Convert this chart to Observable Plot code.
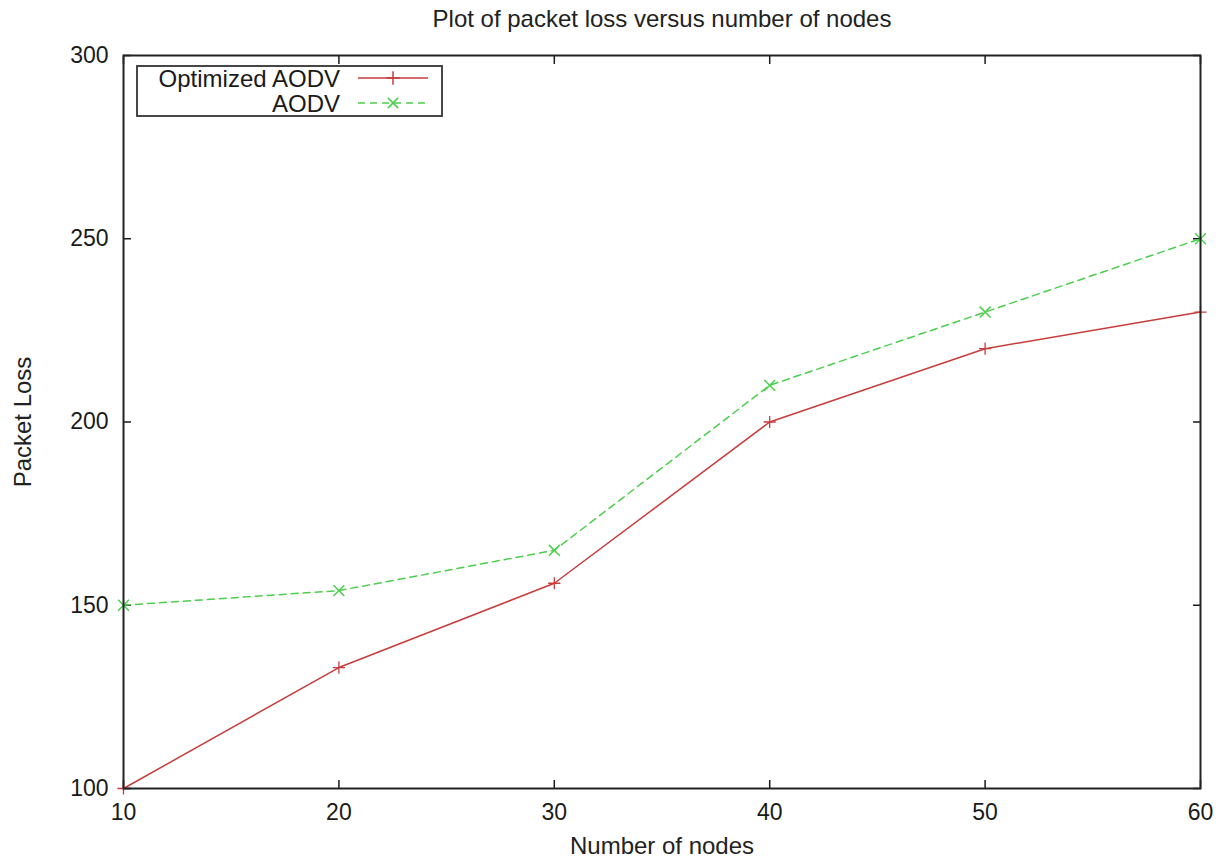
<!DOCTYPE html>
<html>
<head>
<meta charset="utf-8">
<script src="https://cdn.jsdelivr.net/npm/d3@7"></script>
<script src="https://cdn.jsdelivr.net/npm/@observablehq/plot@0.6"></script>
<style>
  html, body { margin: 0; padding: 0; background: #fff; }
  #wrap { position: relative; width: 1225px; height: 863px; font-family: "Liberation Sans", Arial, sans-serif; }
  #legend { position: absolute; left: 0; top: 0; }
</style>
</head>
<body>
<div id="wrap"></div>
<script>
const title = "Plot of packet loss versus number of nodes";
const xLabel = "Number of nodes";
const yLabel = "Packet Loss";
const nodes = [10, 20, 30, 40, 50, 60];
const optimizedAODV = [100, 133, 156, 200, 220, 230];
const aodv = [150, 154, 165, 210, 230, 250];
const seriesNames = ["Optimized AODV", "AODV"];
const xTicks = [10, 20, 30, 40, 50, 60];
const yTicks = [100, 150, 200, 250, 300];

const colors = {"Optimized AODV": "#c83c3c", "AODV": "#4ccf4c"};

const rows = [];
nodes.forEach((n, i) => {
  rows.push({series: seriesNames[0], x: n, y: optimizedAODV[i]});
  rows.push({series: seriesNames[1], x: n, y: aodv[i]});
});
const optRows = rows.filter(d => d.series === seriesNames[0]);
const aodvRows = rows.filter(d => d.series === seriesNames[1]);

const font = "Liberation Sans, Arial, sans-serif";

const chart = Plot.plot({
  width: 1225,
  height: 863,
  marginLeft: 123,
  marginRight: 25,
  marginTop: 55,
  marginBottom: 75,
  style: {fontFamily: font, fontSize: "23px", color: "#1a1a1a", background: "#fff"},
  x: {domain: [10, 60], ticks: xTicks},
  y: {domain: [100, 300], ticks: yTicks},
  marks: [
    Plot.axisX({anchor: "bottom", ticks: xTicks, tickSize: 0, tickPadding: 15, label: null, fontSize: 23}),
    Plot.axisX({anchor: "bottom", ticks: xTicks, tickSize: -8, tickFormat: () => "", label: null, strokeWidth: 1.5}),
    Plot.axisX({anchor: "top", ticks: xTicks, tickSize: -8, tickFormat: () => "", label: null, strokeWidth: 1.5}),
    Plot.axisY({anchor: "left", ticks: yTicks, tickSize: 0, tickPadding: 15, label: null, fontSize: 23}),
    Plot.axisY({anchor: "left", ticks: yTicks, tickSize: -8, tickFormat: () => "", label: null, strokeWidth: 1.5}),
    Plot.axisY({anchor: "right", ticks: yTicks, tickSize: -8, tickFormat: () => "", label: null, strokeWidth: 1.5}),
    Plot.line(optRows, {x: "x", y: "y", stroke: colors[seriesNames[0]], strokeWidth: 1.5}),
    Plot.line(aodvRows, {x: "x", y: "y", stroke: colors[seriesNames[1]], strokeWidth: 1.5, strokeDasharray: "7,5"}),
    Plot.dot(optRows, {x: "x", y: "y", symbol: "plus", r: 4, stroke: colors[seriesNames[0]], strokeWidth: 1.3}),
    Plot.dot(aodvRows, {x: "x", y: "y", symbol: "times", r: 5, stroke: colors[seriesNames[1]], strokeWidth: 1.5}),
    Plot.frame({stroke: "#222", strokeWidth: 2}),
    Plot.text([title], {frameAnchor: "top", lineAnchor: "middle", dy: -36, fontSize: 24, fill: "#222"}),
    Plot.text([xLabel], {frameAnchor: "bottom", lineAnchor: "middle", dy: 58, fontSize: 24, fill: "#222"}),
    Plot.text([yLabel], {frameAnchor: "left", textAnchor: "middle", lineAnchor: "middle", dx: -100, rotate: -90, fontSize: 24, fill: "#222"})
  ]
});
document.getElementById("wrap").appendChild(chart);

// Legend (inside the plot, top-left), built from the series names and colours
const svg = d3.select("#wrap").append("svg")
  .attr("id", "legend").attr("width", 1225).attr("height", 863)
  .style("pointer-events", "none");
svg.append("rect").attr("x", 137).attr("y", 66).attr("width", 305).attr("height", 50)
  .attr("fill", "#fff").attr("stroke", "#333").attr("stroke-width", 1.8);
seriesNames.forEach((name, i) => {
  const cy = 78 + i * 25;
  svg.append("text").attr("x", 340).attr("y", cy).attr("text-anchor", "end")
    .attr("dominant-baseline", "central").attr("font-family", font).attr("font-size", 24)
    .attr("fill", "#1a1a1a").text(name);
  svg.append("line").attr("x1", 358).attr("x2", 428).attr("y1", cy).attr("y2", cy)
    .attr("stroke", colors[name]).attr("stroke-width", 1.5)
    .attr("stroke-dasharray", i === 1 ? "7,5" : null);
  const sym = d3.symbol().type(i === 0 ? d3.symbolPlus : d3.symbolTimes).size(i === 0 ? 60 : 70);
  svg.append("path").attr("d", sym()).attr("transform", `translate(393,${cy})`)
    .attr("fill", "none").attr("stroke", colors[name]).attr("stroke-width", 1.5);
});
</script>
</body>
</html>
